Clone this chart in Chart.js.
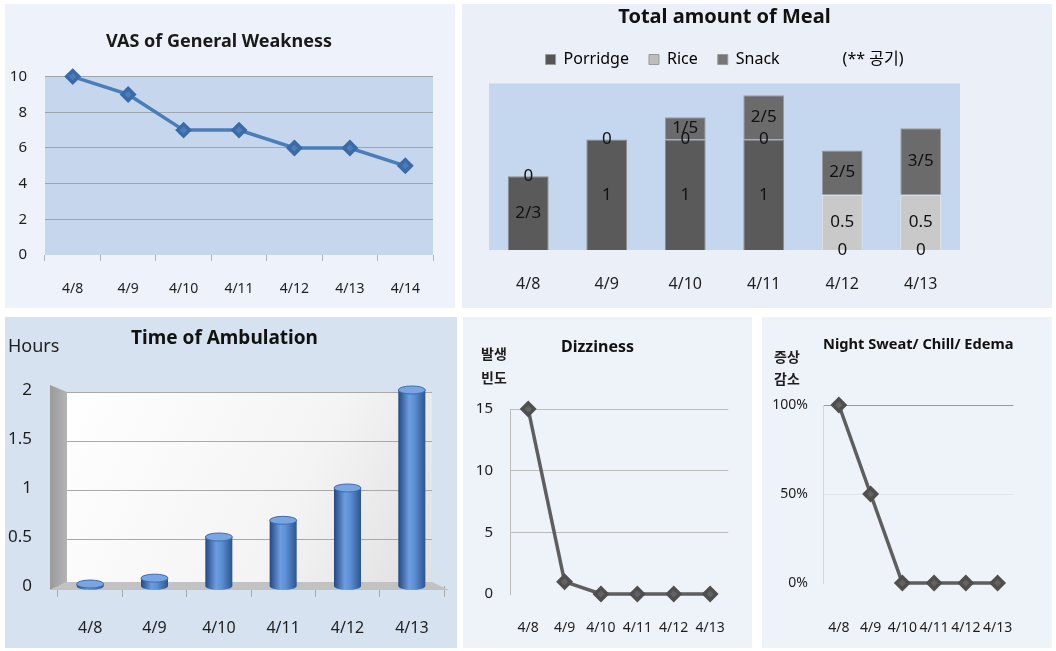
<!DOCTYPE html>
<html>
<head>
<meta charset="utf-8">
<title>Patient charts</title>
<script src="https://cdn.jsdelivr.net/npm/chart.js@4.4.0/dist/chart.umd.min.js"></script>
<style>
    body { margin: 0; width: 1056px; height: 651px; background: #ffffff; position: relative; overflow: hidden; }
    .panel { position: absolute; }
    .panel canvas { position: absolute; left: 0; top: 0; }
</style>
</head>
<body>
<div class="panel" style="left:5px;top:4px;width:450px;height:304px;background:#eef2fa;">
    <canvas id="vasChart" width="450" height="304"></canvas>
</div>
<div class="panel" style="left:462px;top:4px;width:590px;height:304px;background:#ebf0f8;">
    <canvas id="mealChart" width="590" height="304"></canvas>
</div>
<div class="panel" style="left:5px;top:317px;width:452px;height:331px;background:#d7e2f0;">
    <canvas id="walkChart" width="452" height="331"></canvas>
</div>
<div class="panel" style="left:463px;top:317px;width:289px;height:331px;background:#eef2f9;">
    <canvas id="dizzyChart" width="289" height="331"></canvas>
</div>
<div class="panel" style="left:762px;top:317px;width:290px;height:331px;background:#eef2f9;">
    <canvas id="sweatChart" width="290" height="331"></canvas>
</div>

<script>
// ---- data ----
const vasDays = ['4/8', '4/9', '4/10', '4/11', '4/12', '4/13', '4/14'];
const vasScores = [10, 9, 7, 7, 6, 6, 5];

const mealDays = ['4/8', '4/9', '4/10', '4/11', '4/12', '4/13'];
const porridge = [2 / 3, 1, 1, 1, 0, 0];
const rice = [null, null, 0, 0, 0.5, 0.5];
const snack = [0, 0, 0.2, 0.4, 0.4, 0.6];
const porridgeText = ['2/3', '1', '1', '1', '0', '0'];
const riceText = ['', '', '0', '0', '0.5', '0.5'];
const snackText = ['0', '0', '1/5', '2/5', '2/5', '3/5'];

const walkDays = ['4/8', '4/9', '4/10', '4/11', '4/12', '4/13'];
const walkHours = [0.02, 0.08, 0.5, 0.67, 1, 2];
const walkTicks = [0, 0.5, 1, 1.5, 2];

const symptomDays = ['4/8', '4/9', '4/10', '4/11', '4/12', '4/13'];
const dizzyCount = [15, 1, 0, 0, 0, 0];
const sweatPercent = [100, 50, 0, 0, 0, 0];

Chart.defaults.font.family = "'Noto Sans', 'Noto Sans CJK KR', sans-serif";
Chart.defaults.font.size = 14;
Chart.defaults.color = '#1e1e1e';
Chart.defaults.animation = false;

function fixWidth(w) { return s => { s.width = w; }; }
function fixHeight(h) { return s => { s.height = h; }; }
const noZeroLine = color => c => (c.tick && c.tick.value === 0) ? 'rgba(0,0,0,0)' : color;

// plot area fill
const plotBg = {
    id: 'plotBg',
    beforeDraw(chart, args, opts) {
        if (!opts.color) return;
        const { ctx, chartArea: a } = chart;
        const top = a.top + (opts.insetTop || 0);
        ctx.save();
        ctx.fillStyle = opts.color;
        ctx.fillRect(a.left, top, a.right - a.left, a.bottom - top);
        ctx.restore();
    }
};

// extra text such as axis captions
const notes = {
    id: 'notes',
    afterDraw(chart, args, opts) {
        if (!opts.items) return;
        const ctx = chart.ctx;
        ctx.save();
        ctx.fillStyle = '#1e1e1e';
        ctx.textBaseline = 'middle';
        opts.items.forEach(n => {
            ctx.font = n.font;
            ctx.textAlign = n.align || 'center';
            ctx.fillText(n.text, n.x, n.y);
        });
        ctx.restore();
    }
};

// value text in the middle of each stacked segment
const stackText = {
    id: 'stackText',
    afterDatasetsDraw(chart, args, opts) {
        if (!opts.on) return;
        const ctx = chart.ctx;
        ctx.save();
        ctx.font = "17px 'Noto Sans', sans-serif";
        ctx.fillStyle = '#111';
        ctx.textAlign = 'center';
        ctx.textBaseline = 'middle';
        chart.data.datasets.forEach((ds, i) => {
            chart.getDatasetMeta(i).data.forEach((bar, j) => {
                if (ds.data[j] == null || !ds.valueText[j]) return;
                const { x, y, base } = bar.getProps(['x', 'y', 'base'], true);
                ctx.fillText(ds.valueText[j], x, (y + base) / 2);
            });
        });
        ctx.restore();
    }
};

// 3D walls, floor and cylinder caps for the ambulation chart
const cylinder3d = {
    id: 'cylinder3d',
    beforeDatasetsDraw(chart, args, opts) {
        if (!opts.on) return;
        const { ctx, chartArea: a, scales: { y } } = chart;
        const L = a.left, R = a.right, T = a.top, B = a.bottom;
        ctx.save();
        const back = ctx.createLinearGradient(L, T, R, B);
        back.addColorStop(0, '#ffffff');
        back.addColorStop(0.6, '#f4f4f4');
        back.addColorStop(1, '#dedede');
        ctx.fillStyle = back;
        ctx.fillRect(L + 9, T + 2, R - 12 - (L + 9), B - 4 - (T + 2));

        ctx.strokeStyle = '#a9a9a9';
        ctx.lineWidth = 1;
        y.ticks.forEach(t => {
            if (t.value === 0) return;
            const py = Math.round(y.getPixelForValue(t.value) + 2) + 0.5;
            ctx.beginPath();
            ctx.moveTo(L + 9, py);
            ctx.lineTo(R - 12, py);
            ctx.stroke();
        });

        const wall = ctx.createLinearGradient(L - 8, 0, L + 9, 0);
        wall.addColorStop(0, '#9a9a9a');
        wall.addColorStop(1, '#b4b4b4');
        ctx.fillStyle = wall;
        ctx.beginPath();
        ctx.moveTo(L - 8, T - 5);
        ctx.lineTo(L + 9, T + 2);
        ctx.lineTo(L + 9, B - 4);
        ctx.lineTo(L - 8, B + 4);
        ctx.closePath();
        ctx.fill();

        ctx.fillStyle = '#c2c2c2';
        ctx.beginPath();
        ctx.moveTo(L - 8, B + 4);
        ctx.lineTo(R + 5, B + 4);
        ctx.lineTo(R - 12, B - 4);
        ctx.lineTo(L + 9, B - 4);
        ctx.closePath();
        ctx.fill();
        ctx.restore();
    },
    afterDatasetsDraw(chart, args, opts) {
        if (!opts.on) return;
        const ctx = chart.ctx;
        ctx.save();
        chart.getDatasetMeta(0).data.forEach(bar => {
            const { x, y, base, width } = bar.getProps(['x', 'y', 'base', 'width'], true);
            const rx = width / 2;
            ctx.fillStyle = bar.options.backgroundColor;
            ctx.beginPath();
            ctx.ellipse(x, base, rx, 4, 0, 0, Math.PI);
            ctx.fill();
            ctx.fillStyle = '#79a6e2';
            ctx.strokeStyle = '#3d6cab';
            ctx.lineWidth = 1;
            ctx.beginPath();
            ctx.ellipse(x, y, rx, 4, 0, 0, Math.PI * 2);
            ctx.fill();
            ctx.stroke();
        });
        ctx.restore();
    }
};

Chart.register(plotBg, notes, stackText, cylinder3d);

const noTip = { enabled: false };

// ---- VAS of General Weakness ----
new Chart(document.getElementById('vasChart'), {
    type: 'line',
    data: {
        labels: vasDays,
        datasets: [{
            data: vasScores,
            borderColor: '#4a7ebb',
            borderWidth: 3.5,
            pointStyle: 'rectRot',
            pointRadius: 6,
            pointBackgroundColor: '#4a7ebb',
            pointBorderColor: '#3b6aa8',
            tension: 0,
            clip: false
        }]
    },
    options: {
        responsive: false,
        layout: { padding: { left: 0, right: 22, top: 0, bottom: 3 } },
        plugins: {
            legend: { display: false },
            tooltip: noTip,
            title: { display: true, text: 'VAS of General Weakness', color: '#1a1a1a',
                font: { size: 18, weight: 'bold' }, padding: { top: 27, bottom: 24 } },
            plotBg: { color: '#c6d6ec' }
        },
        scales: {
            x: {
                offset: true,
                afterFit: fixHeight(50),
                border: { display: false },
                grid: { offset: true, drawOnChartArea: false, tickLength: 6, color: '#b0b4ba' },
                ticks: { padding: 20, font: { size: 14 } }
            },
            y: {
                min: 0, max: 10,
                afterFit: fixWidth(40),
                border: { display: false },
                grid: { drawTicks: false, color: noZeroLine('#9ca5b0') },
                ticks: { stepSize: 2, padding: 18, font: { size: 15 } }
            }
        }
    }
});

// ---- Total amount of Meal ----
new Chart(document.getElementById('mealChart'), {
    type: 'bar',
    data: {
        labels: mealDays,
        datasets: [
            { label: 'Porridge', data: porridge, valueText: porridgeText, legendColor: '#555555',
              backgroundColor: '#5a5a5a', borderColor: '#8a8a8a', borderWidth: 1 },
            { label: 'Rice', data: rice, valueText: riceText, legendColor: '#bdbdbd',
              backgroundColor: '#c9c9c9', borderColor: '#e8e8e8', borderWidth: 1 },
            { label: 'Snack', data: snack, valueText: snackText, legendColor: '#767676',
              backgroundColor: '#6b6b6b', borderColor: '#9a9a9a', borderWidth: 1 }
        ]
    },
    options: {
        responsive: false,
        layout: { padding: { left: 27, right: 92, top: 0, bottom: 8 } },
        datasets: { bar: { barPercentage: 0.52, categoryPercentage: 1 } },
        plugins: {
            tooltip: noTip,
            title: { display: true, text: 'Total amount of Meal', color: '#111',
                font: { size: 20, weight: 'bold' }, padding: { top: 1, bottom: 2.5 } },
            legend: {
                fullSize: false,
                labels: {
                    boxWidth: 10, boxHeight: 10, padding: 20, color: '#222', font: { size: 16 },
                    generateLabels: chart => {
                        const items = chart.data.datasets.map((ds, i) => ({
                            text: ds.label, fillStyle: ds.legendColor, strokeStyle: '#999',
                            lineWidth: 1, hidden: false, datasetIndex: i
                        }));
                        items.push({ text: '      (** 공기)', fillStyle: 'rgba(0,0,0,0)',
                            strokeStyle: 'rgba(0,0,0,0)', lineWidth: 0, hidden: false });
                        return items;
                    }
                }
            },
            plotBg: { color: '#c5d7ee', insetTop: 6 },
            stackText: { on: true }
        },
        scales: {
            x: {
                stacked: true,
                afterFit: fixHeight(50),
                border: { display: false },
                grid: { display: false, drawTicks: false },
                ticks: { padding: 25, font: { size: 16 } }
            },
            y: { stacked: true, display: false, min: 0, max: 1.56 }
        }
    }
});

// ---- Time of Ambulation ----
new Chart(document.getElementById('walkChart'), {
    type: 'bar',
    data: {
        labels: walkDays,
        datasets: [{
            data: walkHours,
            borderWidth: 0,
            barPercentage: 0.42,
            categoryPercentage: 1,
            backgroundColor(c) {
                const chart = c.chart;
                if (!chart.chartArea) return '#4a7ebb';
                const xs = chart.scales.x;
                const cx = xs.getPixelForValue(c.dataIndex);
                const half = xs.width / walkDays.length * 0.42 / 2;
                const g = chart.ctx.createLinearGradient(cx - half, 0, cx + half, 0);
                g.addColorStop(0, '#23487f');
                g.addColorStop(0.4, '#6d9ddf');
                g.addColorStop(0.6, '#5d8fd4');
                g.addColorStop(1, '#2b5591');
                return g;
            }
        }]
    },
    options: {
        responsive: false,
        layout: { padding: { left: 0, right: 13, top: 0, bottom: 5 } },
        plugins: {
            legend: { display: false },
            tooltip: noTip,
            title: { display: true, text: 'Time of Ambulation', color: '#111',
                font: { size: 19, weight: 'bold' }, padding: { top: 10.6, bottom: 39.6 } },
            cylinder3d: { on: true },
            notes: { items: [{ text: 'Hours', x: 3, y: 30, align: 'left', font: "18px 'Noto Sans', sans-serif" }] }
        },
        scales: {
            x: {
                afterFit: fixHeight(57),
                border: { display: false },
                grid: { offset: true, drawOnChartArea: false, tickLength: 11, color: '#a8a8a8' },
                ticks: { padding: 21.4, font: { size: 16 } }
            },
            y: {
                min: 0, max: 2,
                afterFit: fixWidth(53),
                border: { display: false },
                grid: { display: false },
                afterBuildTicks: s => { s.ticks = walkTicks.map(v => ({ value: v })); },
                ticks: { padding: 18, font: { size: 17 }, callback: v => String(v) }
            }
        }
    }
});

// ---- Dizziness ----
new Chart(document.getElementById('dizzyChart'), {
    type: 'line',
    data: {
        labels: symptomDays,
        datasets: [{
            data: dizzyCount,
            borderColor: '#5e5e5e',
            borderWidth: 3.5,
            pointStyle: 'rectRot',
            pointRadius: 6,
            pointBackgroundColor: '#636363',
            pointBorderColor: '#4f4f4f',
            tension: 0,
            clip: false
        }]
    },
    options: {
        responsive: false,
        layout: { padding: { left: 0, right: 20, top: 0, bottom: 5 } },
        plugins: {
            legend: { display: false },
            tooltip: noTip,
            title: { display: true, text: 'Dizziness', color: '#111',
                font: { size: 16, weight: 'bold' }, padding: { top: 20.4, bottom: 52.4 } },
            notes: { items: [
                { text: '발생', x: 31, y: 37, font: "bold 14px 'Noto Sans CJK KR', sans-serif" },
                { text: '빈도', x: 31, y: 61, font: "bold 14px 'Noto Sans CJK KR', sans-serif" }
            ] }
        },
        scales: {
            x: {
                offset: true,
                afterFit: fixHeight(49),
                border: { display: false },
                grid: { display: false, drawTicks: false },
                ticks: { padding: 25.6, autoSkip: false, maxRotation: 0, font: { size: 14 } }
            },
            y: {
                min: 0, max: 15,
                afterFit: fixWidth(47),
                border: { display: true, color: '#bcbcbc' },
                grid: { drawTicks: false, color: noZeroLine('#bcbcbc') },
                ticks: { stepSize: 5, padding: 17, font: { size: 15 } }
            }
        }
    }
});

// ---- Night Sweat / Chill / Edema ----
new Chart(document.getElementById('sweatChart'), {
    type: 'line',
    data: {
        labels: symptomDays,
        datasets: [{
            data: sweatPercent,
            borderColor: '#5e5e5e',
            borderWidth: 3.5,
            pointStyle: 'rectRot',
            pointRadius: 6,
            pointBackgroundColor: '#636363',
            pointBorderColor: '#4f4f4f',
            tension: 0,
            clip: false
        }]
    },
    options: {
        responsive: false,
        layout: { padding: { left: 0, right: 3, top: 0, bottom: 5 } },
        plugins: {
            legend: { display: false },
            tooltip: noTip,
            title: { display: true, fullSize: false, text: 'Night Sweat/ Chill/ Edema', color: '#111',
                font: { size: 15, weight: 'bold' }, padding: { top: 19, bottom: 51 } },
            notes: { items: [
                { text: '증상', x: 25, y: 40, font: "bold 14px 'Noto Sans CJK KR', sans-serif" },
                { text: '감소', x: 25, y: 62, font: "bold 14px 'Noto Sans CJK KR', sans-serif" }
            ] }
        },
        scales: {
            x: {
                offset: true,
                afterFit: fixHeight(60),
                border: { display: false },
                grid: { display: false, drawTicks: false },
                ticks: { padding: 36.6, autoSkip: false, maxRotation: 0, font: { size: 14 } }
            },
            y: {
                min: 0, max: 100,
                afterFit: fixWidth(61),
                border: { display: true, color: '#d4d8de' },
                grid: {
                    drawTicks: false,
                    color: c => c.tick.value === 100 ? '#9a9a9a' : (c.tick.value === 50 ? '#e2e6ec' : 'rgba(0,0,0,0)')
                },
                ticks: { stepSize: 50, padding: 15, font: { size: 14 }, callback: v => v + '%' }
            }
        }
    }
});
</script>
</body>
</html>
